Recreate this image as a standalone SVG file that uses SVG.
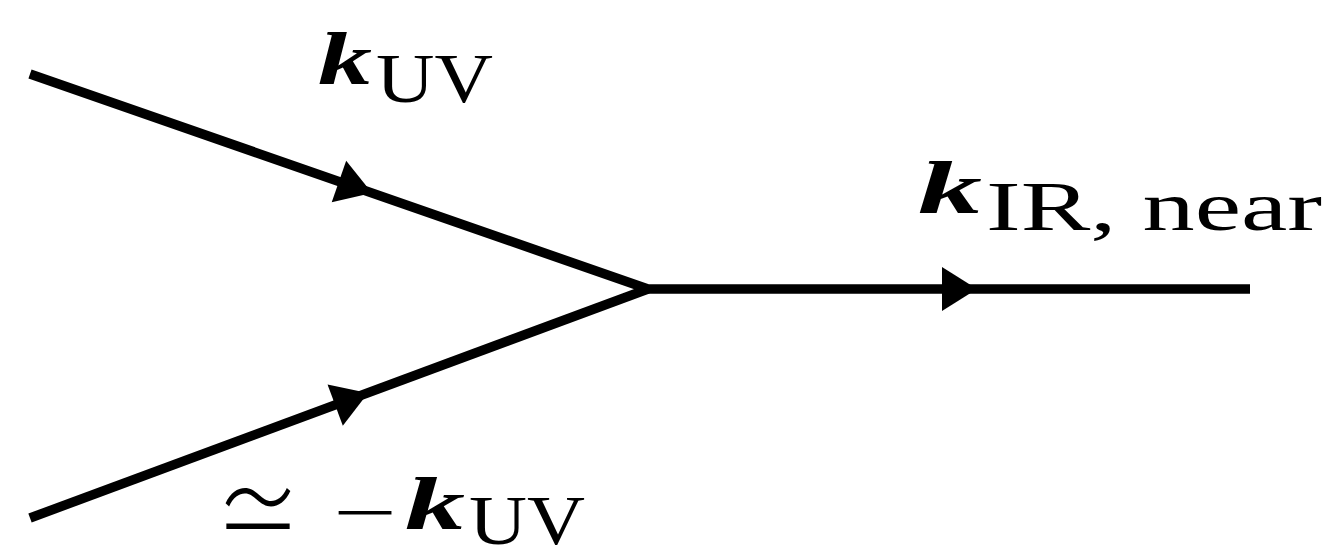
<svg xmlns="http://www.w3.org/2000/svg" width="1332" height="557" viewBox="0 0 1332 557">
<style>
.edge{fill:none;stroke:#000;stroke-width:9.5;stroke-linejoin:miter;stroke-linecap:butt}
.k{font-family:"Liberation Serif","DejaVu Serif",serif;font-weight:bold;font-style:italic;font-size:74px;fill:#000}
.sub{font-family:"Liberation Serif","DejaVu Serif",serif;font-size:70px;fill:#000}
.sym{font-family:"Noto Sans CJK JP","DejaVu Sans",sans-serif;font-weight:300;font-size:86px;fill:#000}
</style>
<defs>
<path id="arrow" d="M0,0 L-35,-22 L-35,22 Z" fill="#000"/>
</defs>
<rect width="1332" height="557" fill="#fff"/>
<g id="connectors">
<path class="edge" d="M30,74 L648,289 L1250,289"/>
<path class="edge" d="M30,518 L648,289"/>
<use href="#arrow" transform="translate(372,193) rotate(19.18)"/>
<use href="#arrow" transform="translate(368,393) rotate(-20.33)"/>
<use href="#arrow" transform="translate(977,289)"/>
</g>
<g id="label-top">
<text class="k" x="318" y="84" textLength="54" lengthAdjust="spacingAndGlyphs">k</text>
<text class="sub" x="376" y="102" textLength="117" lengthAdjust="spacingAndGlyphs">UV</text>
</g>
<g id="label-right">
<text class="k" x="918" y="213" textLength="64" lengthAdjust="spacingAndGlyphs">k</text>
<text class="sub" x="986" y="230" textLength="336" lengthAdjust="spacingAndGlyphs">IR, near</text>
</g>
<g id="label-bottom">
<text class="sym" transform="translate(215,552) scale(1,1.28)" x="0" y="0">≃</text>
<text class="sub" x="333" y="536" textLength="64" lengthAdjust="spacingAndGlyphs">−</text>
<text class="k" x="405" y="529" textLength="60" lengthAdjust="spacingAndGlyphs">k</text>
<text class="sub" x="469" y="544" textLength="116" lengthAdjust="spacingAndGlyphs">UV</text>
</g>
</svg>
